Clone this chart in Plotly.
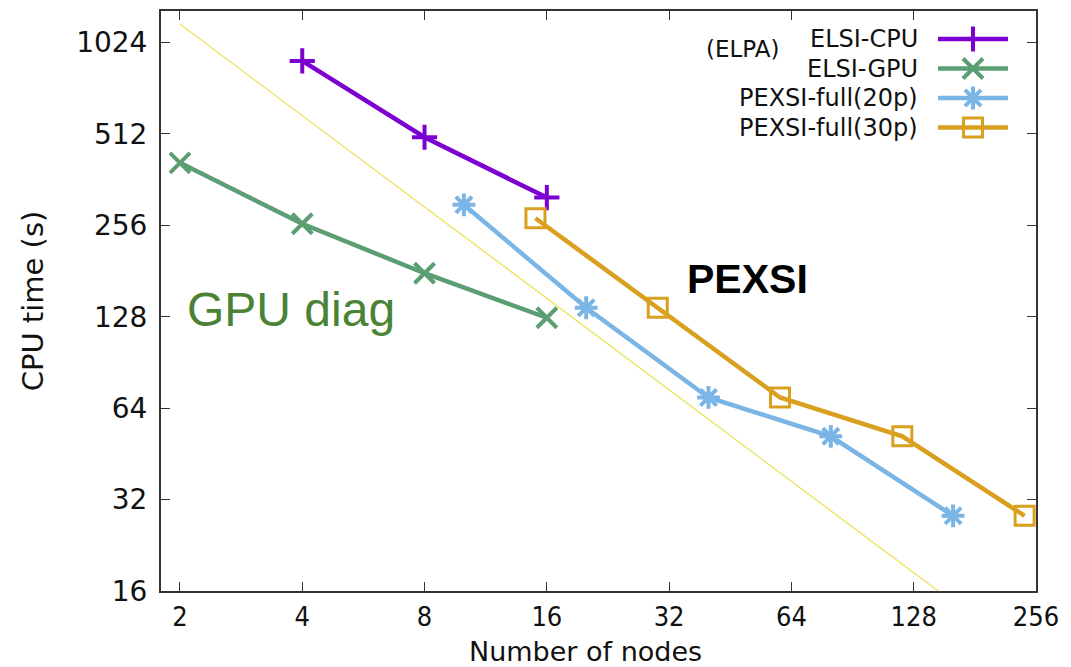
import plotly.graph_objects as go
import math

# ---- data ----
cpu_nodes = [4, 8, 16]
cpu_time = [890, 499, 316]

gpu_nodes = [2, 4, 8, 16]
gpu_time = [411, 259, 178, 127]

p20_nodes = [10, 20, 40, 80, 160]
p20_time = [299, 137, 69.4, 51.7, 28.3]

p30_nodes = [15, 30, 60, 120, 240]
p30_time = [270, 137, 69.4, 51.7, 28.3]

ideal_nodes = [2, 147]
ideal_time = [1177, 16]

x_ticks = [2, 4, 8, 16, 32, 64, 128, 256]
y_ticks = [16, 32, 64, 128, 256, 512, 1024]

series_names = ["ELSI-CPU", "ELSI-GPU", "PEXSI-full(20p)", "PEXSI-full(30p)"]
colors = ["#7d00d2", "#5a9e72", "#7ab5e6", "#d9a020"]
symbols = ["cross-thin-open", "x-thin-open", "asterisk-open", "square-open"]
sizes = [18, 20, 19, 19]
mwidths = [4, 4, 4, 3]

# page body has an 8px margin; compensate so the plot lands where the reference has it
OFF = 8
W, H = 1071 - OFF, 667 - OFF
ML, MR, MT, MB = 161 - OFF, 35, 11 - OFF, 76

fig = go.Figure()

fig.add_trace(go.Scatter(x=ideal_nodes, y=ideal_time, mode="lines",
                         line=dict(color="#ece25a", width=1.3),
                         showlegend=False, hoverinfo="skip"))

data = [(cpu_nodes, cpu_time), (gpu_nodes, gpu_time),
        (p20_nodes, p20_time), (p30_nodes, p30_time)]
for i, (xs, ys) in enumerate(data):
    fig.add_trace(go.Scatter(
        x=xs, y=ys, mode="lines+markers", name=series_names[i],
        line=dict(color=colors[i], width=4.5),
        marker=dict(symbol=symbols[i], size=sizes[i], color=colors[i],
                    line=dict(color=colors[i], width=mwidths[i])),
        showlegend=False))

# ---- custom legend (text right-aligned, sample on right) ----
plot_w = W - ML - MR
plot_h = H - MT - MB

def px(x):  # screen pixel x -> paper
    return (x - OFF - ML) / plot_w

def py(y):  # screen pixel y -> paper
    return (H - MB - (y - OFF)) / plot_h

leg_rows = [39, 68.5, 98, 127.5]
for i, name in enumerate(series_names):
    yy = py(leg_rows[i])
    fig.add_annotation(x=px(920), y=yy, xref="paper", yref="paper",
                       text=name, showarrow=False, xanchor="right",
                       yanchor="middle",
                       font=dict(family="DejaVu Sans", size=24, color="#111"))
    fig.add_trace(go.Scatter(
        x=[px(938), px(1008)], y=[yy, yy],
        xaxis="x2", yaxis="y2", mode="lines",
        line=dict(color=colors[i], width=4.5),
        showlegend=False, hoverinfo="skip"))
    fig.add_trace(go.Scatter(
        x=[px(973)], y=[yy],
        xaxis="x2", yaxis="y2", mode="markers",
        marker=dict(symbol=symbols[i], size=sizes[i], color=colors[i],
                    line=dict(color=colors[i], width=mwidths[i])),
        showlegend=False, hoverinfo="skip"))

fig.add_annotation(x=px(704), y=py(49), xref="paper", yref="paper",
                   text="(ELPA)", showarrow=False, xanchor="left",
                   yanchor="middle",
                   font=dict(family="DejaVu Sans", size=23, color="#111"))

fig.add_annotation(x=px(185), y=py(309), xref="paper", yref="paper",
                   text="GPU diag", showarrow=False, xanchor="left",
                   yanchor="middle",
                   font=dict(family="Liberation Sans", size=48, color="#4a8236"))

fig.add_annotation(x=px(685), y=py(279), xref="paper", yref="paper",
                   text="<b>PEXSI</b>", showarrow=False, xanchor="left",
                   yanchor="middle",
                   font=dict(family="Liberation Sans", size=41, color="#000"))

# x-axis title placed as an annotation below the tick labels
fig.add_annotation(x=px(585), y=py(651), xref="paper", yref="paper",
                   text="Number of nodes", showarrow=False, xanchor="center",
                   yanchor="middle",
                   font=dict(family="DejaVu Sans", size=27, color="#111"))

axis_common = dict(showline=True, linecolor="#333", linewidth=2, mirror="ticks",
                   ticks="inside", ticklen=9, tickwidth=1.3, tickcolor="#333",
                   showgrid=False, zeroline=False, automargin=False)

fig.update_layout(
    width=W, height=H,
    margin=dict(l=ML, r=MR, t=MT, b=MB),
    paper_bgcolor="white", plot_bgcolor="white",
    showlegend=False,
    xaxis=dict(type="log", range=[math.log10(2 ** 0.845), math.log10(256)],
               tickvals=x_ticks, ticktext=[str(v) for v in x_ticks],
               tickfont=dict(family="DejaVu Sans Condensed, DejaVu Sans", size=27, color="#111"),
               ticklabelstandoff=1,
               **axis_common),
    yaxis=dict(type="log", range=[math.log10(16), math.log10(2 ** 10.344)],
               tickvals=y_ticks, ticktext=[str(v) for v in y_ticks],
               tickfont=dict(family="DejaVu Sans", size=28, color="#111"),
               ticklabelstandoff=6,
               title=dict(text="CPU time (s)", standoff=24,
                          font=dict(family="DejaVu Sans", size=29, color="#111")),
               **axis_common),
    xaxis2=dict(overlaying="x", range=[0, 1], visible=False, showgrid=False),
    yaxis2=dict(overlaying="y", range=[0, 1], visible=False, showgrid=False),
)

fig.write_html("out.html")
